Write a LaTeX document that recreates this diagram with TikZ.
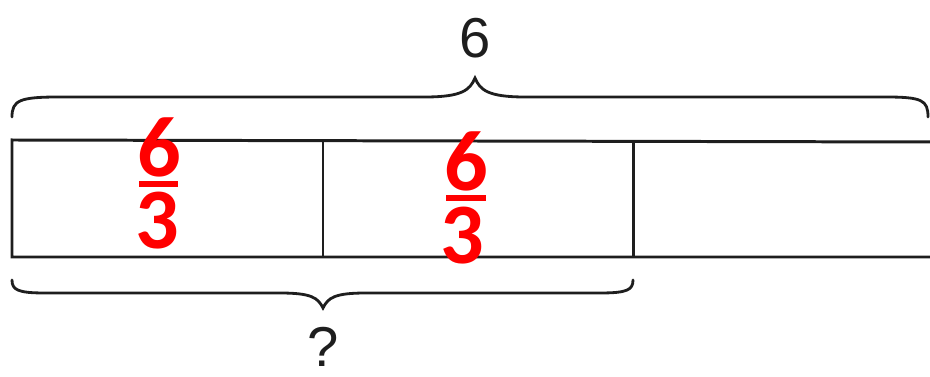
\documentclass[tikz,border=0pt]{standalone}
\usepackage{fontspec}
\setmainfont{Liberation Sans}
\newfontfamily\fracfont{Carlito}
\usepackage{xcolor}
\usepackage{tikz}
\definecolor{FracRed}{RGB}{255,0,0}
\definecolor{TapeGray}{RGB}{30,30,30}

\begin{document}
\begin{tikzpicture}[
  x=0.02cm, y=-0.02cm,
  every node/.style={inner sep=0pt, align=center},
  tape/.style={draw=TapeGray, line width=1.7pt},
  brace/.style={draw=TapeGray, line width=1.6pt, line cap=round},
  lbl/.style={font=\fontsize{32}{32}\selectfont, text=TapeGray},
  frac/.style={font=\fracfont\bfseries\fontsize{49}{49}\selectfont, text=FracRed},
  fbar/.style={draw=FracRed, line width=3.2pt}
]
\useasboundingbox (0,0) rectangle (930,377);

% tape
\draw[tape] (930,142) -- (12,140) -- (12,257) -- (930,257);
\draw[tape] (323,140) -- (323,257);
\draw[tape] (633,141) -- (633,257);

% braces
\draw[brace] (12,117) .. controls (12,100) and (20,97) .. (60,97) -- (425,97)
  .. controls (462,97) and (470,90) .. (475,78)
  .. controls (480,90) and (488,97) .. (525,97) -- (885,97)
  .. controls (922,97) and (928,100) .. (928,117);
\draw[brace] (12,280) .. controls (12,290) and (18,293) .. (45,293) -- (280,293)
  .. controls (312,293) and (318,298) .. (323,308)
  .. controls (328,298) and (334,293) .. (366,293) -- (600,293)
  .. controls (627,293) and (633,290) .. (633,280);

% labels
\node[lbl] (total) at (475,38) {6};
\node[lbl] (part) at (323,347) {?};

% fractions
\node[frac] (num1) at (159,147) {6};
\draw[fbar] (139,184) -- (178,184);
\node[frac] (den1) at (157,221) {3};
\node[frac] (num2) at (466,161) {6};
\draw[fbar] (446,198) -- (486,198);
\node[frac] (den2) at (462,236) {3};
\end{tikzpicture}
\end{document}
